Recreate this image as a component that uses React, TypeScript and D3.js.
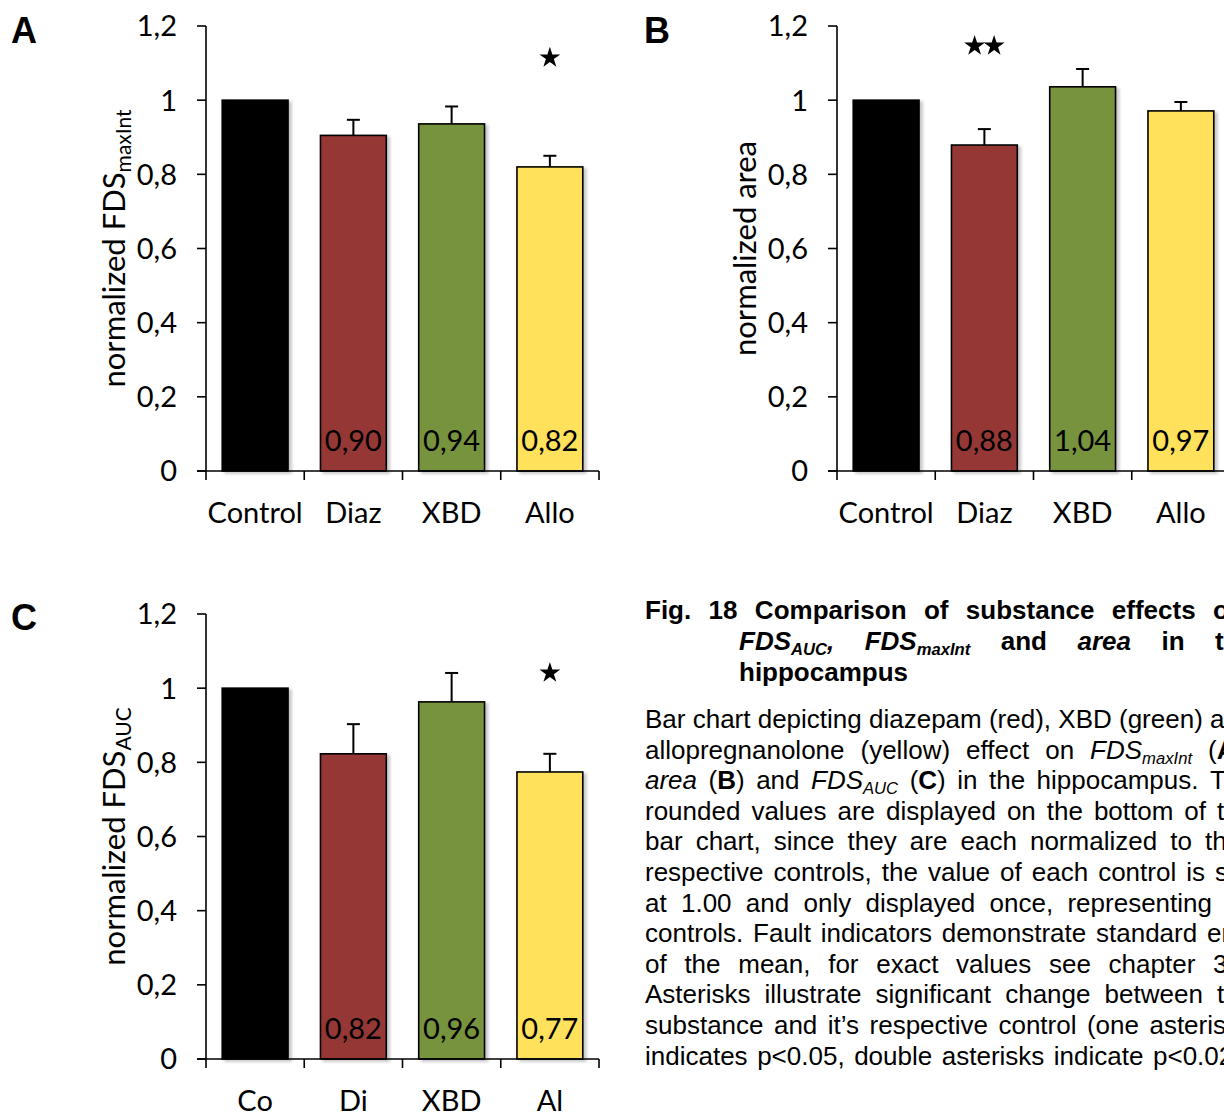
import React from 'react';
import * as d3 from 'd3';

// ---------- data ----------
const categoriesAB = ['Control', 'Diaz', 'XBD', 'Allo'];
const categoriesC = ['Co', 'Di', 'XBD', 'Al'];
const barColors = ['#000000', '#953735', '#77933C', '#FFE15B'];

const valuesA = [1, 0.905, 0.936, 0.82];
const errorsA = [0, 0.042, 0.047, 0.03];
const labelsA = ['', '0,90', '0,94', '0,82'];
const starsA = [0, 0, 0, 1];

const valuesB = [1, 0.879, 1.036, 0.971];
const errorsB = [0, 0.043, 0.048, 0.024];
const labelsB = ['', '0,88', '1,04', '0,97'];
const starsB = [0, 2, 0, 0];

const valuesC = [1, 0.823, 0.963, 0.774];
const errorsC = [0, 0.08, 0.078, 0.049];
const labelsC = ['', '0,82', '0,96', '0,77'];
const starsC = [0, 0, 0, 1];

const starLevels = [1.117, 1.149, 1.044];

const yTicks = [0, 0.2, 0.4, 0.6, 0.8, 1, 1.2];
const yTickLabels = ['0', '0,2', '0,4', '0,6', '0,8', '1', '1,2'];

const yTitles = [
  ['normalized FDS', 'maxInt'],
  ['normalized area', ''],
  ['normalized FDS', 'AUC'],
];
const panelLetters = ['A', 'B', 'C'];

// caption text: ^ toggles bold, ~ toggles italic, _ toggles subscript
const captionTitleLines = [
  '^Fig. 18 Comparison of substance effects o^',
  '^~FDS_AUC_,~ ~FDS_maxInt_~ and ~area~ in t^',
  '^hippocampus^',
];
const captionBodyLines = [
  'Bar chart depicting diazepam (red), XBD (green) a',
  'allopregnanolone (yellow) effect on ~FDS_maxInt_~ (^A^',
  '~area~ (^B^) and ~FDS_AUC_~ (^C^) in the hippocampus. T',
  'rounded values are displayed on the bottom of t',
  'bar chart, since they are each normalized to th',
  'respective controls, the value of each control is s',
  'at 1.00 and only displayed once, representing',
  'controls. Fault indicators demonstrate standard er',
  'of the mean, for exact values see chapter 3',
  'Asterisks illustrate significant change between t',
  'substance and it\u2019s respective control (one asteris',
  'indicates p<0.05, double asterisks indicate p<0.02',
];

// ---------- layout ----------
const W = 1224;
const H = 1112;
const CHART_FONT = 'Lato, "Open Sans", sans-serif';
const CAP_FONT = '"Liberation Sans", Arial, sans-serif';
const PANEL_W = 393;

const panelLayout = [
  { x0: 206, yTop: 26, yBottom: 471, lx: 11, ly: 43 },
  { x0: 837, yTop: 26, yBottom: 471, lx: 644, ly: 43 },
  { x0: 206, yTop: 614, yBottom: 1059, lx: 11, ly: 630 },
];

const titleLayout = [
  { x: 645, y: 619, last: 1213, anchor: 'start' },
  { x: 739, y: 650, last: 1215, anchor: 'start' },
  { x: 739, y: 681, last: 0, anchor: 'none' },
];
const bodyLastPos = [1208, 1208, 1210, 1217, 1205, 1215, 1212, 1207, 1213, 1217, 1226, 1153];
const bodyLastAnchor = ['start', 'start', 'start', 'start', 'start', 'start', 'end', 'start', 'start', 'start', 'end', 'start'];
const BODY_X = 645;
const BODY_Y0 = 728;
const BODY_LH = 30.6;
const BODY_SIZE = 26;
const TITLE_SIZE = 26;

type Run = { t: string; b: boolean; i: boolean; s: boolean };

function parseLine(line: string): Run[][] {
  const words: Run[][] = [];
  let b = false, i = false, s = false;
  let cur: Run[] = [];
  let run: Run | null = null;
  const flush = () => { if (run && run.t.length) cur.push(run); run = null; };
  for (const ch of line) {
    if (ch === '^') { flush(); b = !b; continue; }
    if (ch === '~') { flush(); i = !i; continue; }
    if (ch === '_') { flush(); s = !s; continue; }
    if (ch === ' ') { flush(); if (cur.length) words.push(cur); cur = []; continue; }
    if (!run) run = { t: '', b, i, s };
    run.t += ch;
  }
  flush();
  if (cur.length) words.push(cur);
  return words;
}

let ctx: CanvasRenderingContext2D | null = null;
function fontStr(r: Run, size: number) {
  const sz = r.s ? size * 0.64 : size;
  return `${r.i ? 'italic ' : ''}${r.b ? 'bold ' : ''}${sz}px "Liberation Sans", Arial, sans-serif`;
}
function measure(r: Run, size: number) {
  if (!ctx) ctx = document.createElement('canvas').getContext('2d');
  ctx!.font = fontStr(r, size);
  return ctx!.measureText(r.t).width;
}

function CaptionLine({ text, x, y, size, last, anchor, k }: any) {
  const words = parseLine(text);
  const widths = words.map(w => w.map(r => measure(r, size)));
  const wordW = widths.map(ws => ws.reduce((a, c) => a + c, 0));
  const space = measure({ t: ' ', b: words[0][0].b, i: false, s: false }, size);
  let gap = space;
  if (anchor !== 'none' && words.length > 1) {
    const lastStart = anchor === 'end' ? last - wordW[wordW.length - 1] : last;
    const before = wordW.slice(0, -1).reduce((a, c) => a + c, 0);
    gap = Math.max(space, (lastStart - x - before) / (words.length - 1));
  }
  const els: any[] = [];
  let cx = x;
  words.forEach((w, wi) => {
    let rx = cx;
    w.forEach((r, ri) => {
      els.push(
        <text key={`${k}-${wi}-${ri}`} x={rx} y={r.s ? y + 5 : y}
          fontFamily={CAP_FONT} fontSize={r.s ? size * 0.64 : size}
          fontWeight={r.b ? 'bold' : 'normal'} fontStyle={r.i ? 'italic' : 'normal'}
          fill="#000">{r.t}</text>
      );
      rx += widths[wi][ri];
    });
    cx += wordW[wi] + gap;
  });
  return <g>{els}</g>;
}

function Panel({ idx, categories, values, errors, labels, stars }: any) {
  const L = panelLayout[idx];
  const x = d3.scaleBand<string>().domain(categories).range([L.x0, L.x0 + PANEL_W]).paddingInner(0.33).paddingOuter(0.165);
  const y = d3.scaleLinear().domain([0, 1.2]).range([L.yBottom, L.yTop]);
  const step = x.step();
  const half = (step - x.bandwidth()) / 2;
  const bounds = categories.map((c: string) => (x(c) as number) - half);
  bounds.push(bounds[bounds.length - 1] + step);
  const yMid = (L.yTop + L.yBottom) / 2;
  const starPath = d3.symbol().type(d3.symbolStar).size(135)() as string;
  const [tMain, tSub] = yTitles[idx];

  return (
    <g>
      <text x={L.lx} y={L.ly} fontFamily={CAP_FONT} fontWeight="bold" fontSize={36}>{panelLetters[idx]}</text>
      {/* y title */}
      <text transform={`translate(${L.x0 - 81},${yMid}) rotate(-90)`} textAnchor="middle" fontFamily={CHART_FONT} fontSize={31}>
        {tMain}
        {tSub ? <tspan fontSize={21} dy={6}>{tSub}</tspan> : null}
      </text>
      {/* bars */}
      {categories.map((c: string, i: number) => (
        <rect key={c} x={x(c)} y={y(values[i])} width={x.bandwidth()} height={y(0) - y(values[i])}
          fill={barColors[i]} stroke="#000" strokeWidth={1.6} filter="url(#shadow)" />
      ))}
      {/* error bars */}
      {categories.map((c: string, i: number) => {
        if (!errors[i]) return null;
        const cx = (x(c) as number) + x.bandwidth() / 2;
        return (
          <g key={'e' + c} stroke="#000" strokeWidth={2}>
            <line x1={cx} x2={cx} y1={y(values[i])} y2={y(values[i] + errors[i])} />
            <line x1={cx - 6.5} x2={cx + 6.5} y1={y(values[i] + errors[i])} y2={y(values[i] + errors[i])} />
          </g>
        );
      })}
      {/* value labels */}
      {categories.map((c: string, i: number) => labels[i] ? (
        <text key={'v' + c} x={(x(c) as number) + x.bandwidth() / 2} y={L.yBottom - 20} textAnchor="middle"
          fontFamily={CHART_FONT} fontSize={29} fill="#000">{labels[i]}</text>
      ) : null)}
      {/* stars */}
      {categories.map((c: string, i: number) => {
        const n = stars[i];
        if (!n) return null;
        const cx = (x(c) as number) + x.bandwidth() / 2;
        return (
          <g key={'s' + c}>
            {d3.range(n).map(k => (
              <path key={k} d={starPath} fill="#000"
                transform={`translate(${cx + (k - (n - 1) / 2) * 19.5},${y(starLevels[idx]) + 1})`} />
            ))}
          </g>
        );
      })}
      {/* y axis */}
      <line x1={L.x0} x2={L.x0} y1={y(1.2)} y2={y(0)} stroke="#000" strokeWidth={1.6} />
      {yTicks.map((t, i) => (
        <g key={'t' + t}>
          <line x1={L.x0 - 9} x2={L.x0} y1={y(t)} y2={y(t)} stroke="#000" strokeWidth={1.6} />
          <text x={L.x0 - 29} y={y(t)} dy="0.36em" textAnchor="end" fontFamily={CHART_FONT} fontSize={29}>{yTickLabels[i]}</text>
        </g>
      ))}
      {/* x axis */}
      <line x1={L.x0 - 9} x2={bounds[bounds.length - 1]} y1={y(0)} y2={y(0)} stroke="#000" strokeWidth={1.6} />
      {bounds.map((b: number, i: number) => (
        <line key={'b' + i} x1={b} x2={b} y1={y(0)} y2={y(0) + 9} stroke="#000" strokeWidth={1.6} />
      ))}
      {categories.map((c: string) => (
        <text key={'c' + c} x={(x(c) as number) + x.bandwidth() / 2} y={L.yBottom + 52} textAnchor="middle"
          fontFamily={CHART_FONT} fontSize={29}>{c}</text>
      ))}
    </g>
  );
}

export default function App() {
  return (
    <div style={{ position: 'absolute', left: 0, top: 0 }}>
      <svg width={W} height={H} viewBox={`0 0 ${W} ${H}`} style={{ display: 'block', background: '#fff' }}>
        <defs>
          <filter id="shadow" x="-10%" y="-5%" width="130%" height="115%">
            <feDropShadow dx="3" dy="2" stdDeviation="1.5" floodColor="#000" floodOpacity="0.22" />
          </filter>
        </defs>
        <rect x={0} y={0} width={W} height={H} fill="#fff" />
        <Panel idx={0} categories={categoriesAB} values={valuesA} errors={errorsA} labels={labelsA} stars={starsA} />
        <Panel idx={1} categories={categoriesAB} values={valuesB} errors={errorsB} labels={labelsB} stars={starsB} />
        <Panel idx={2} categories={categoriesC} values={valuesC} errors={errorsC} labels={labelsC} stars={starsC} />
        {captionTitleLines.map((t, i) => (
          <CaptionLine key={'ct' + i} k={'ct' + i} text={t} x={titleLayout[i].x} y={titleLayout[i].y}
            size={TITLE_SIZE} last={titleLayout[i].last} anchor={titleLayout[i].anchor} />
        ))}
        {captionBodyLines.map((t, i) => (
          <CaptionLine key={'cb' + i} k={'cb' + i} text={t} x={BODY_X} y={BODY_Y0 + i * BODY_LH}
            size={BODY_SIZE} last={bodyLastPos[i]} anchor={bodyLastAnchor[i]} />
        ))}
      </svg>
    </div>
  );
}
